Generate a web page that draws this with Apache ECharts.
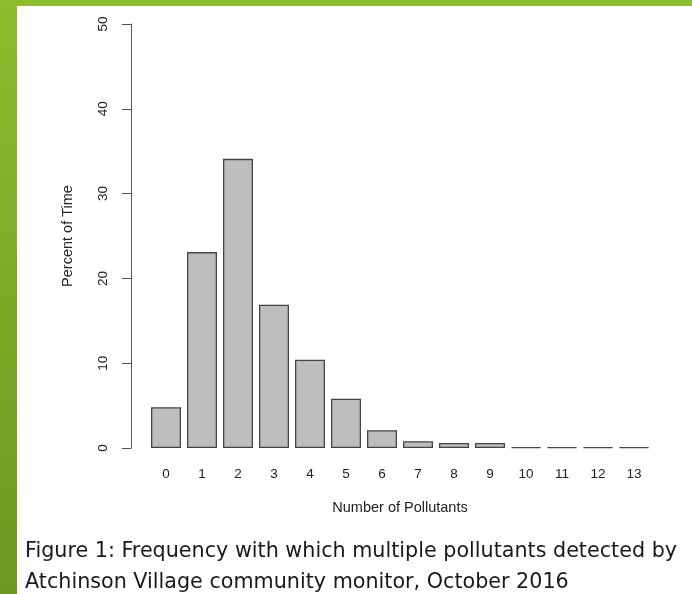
<!DOCTYPE html>
<html>
<head>
<meta charset="utf-8">
<script src="https://cdn.jsdelivr.net/npm/echarts@6/dist/echarts.min.js"></script>
<style>
  html, body { margin: 0; padding: 0; background: #fff; }
  #chart { width: 692px; height: 594px; }
</style>
</head>
<body>
<div id="chart"></div>
<script>
// number of pollutants detected at the same time
var categories = ['0', '1', '2', '3', '4', '5', '6', '7', '8', '9', '10', '11', '12', '13']
// percent of time
var percentOfTime = [4.8, 23.1, 34.1, 16.9, 10.4, 5.8, 2.1, 0.8, 0.6, 0.6, 0.1, 0.1, 0.1, 0.1]
var yTicks = [0, 10, 20, 30, 40, 50]

var captionLines = [
  'Figure 1: Frequency with which multiple pollutants detected by',
  'Atchinson Village community monitor, October 2016'
]

var chart = echarts.init(document.getElementById('chart'))

chart.setOption({
  backgroundColor: '#ffffff',
  animation: false,
  grid: {
    left: 148,
    top: 24,
    width: 504,
    height: 424
  },
  xAxis: {
    type: 'category',
    data: categories,
    name: 'Number of Pollutants',
    nameLocation: 'middle',
    nameGap: 52,
    nameTextStyle: {
      fontFamily: 'Liberation Sans',
      fontSize: 14.5,
      color: '#222'
    },
    axisLine: { show: false },
    axisTick: { show: false },
    axisLabel: {
      fontFamily: 'Liberation Sans',
      fontSize: 13.5,
      color: '#222',
      margin: 19,
      interval: 0
    }
  },
  yAxis: {
    type: 'value',
    min: yTicks[0],
    max: yTicks[yTicks.length - 1],
    interval: 10,
    offset: 17,
    name: 'Percent of Time',
    nameLocation: 'middle',
    nameGap: 56,
    nameTextStyle: {
      fontFamily: 'Liberation Sans',
      fontSize: 14.5,
      color: '#222'
    },
    splitLine: { show: false },
    axisLine: { show: true, lineStyle: { color: '#555', width: 1 } },
    axisTick: { show: true, length: 9, lineStyle: { color: '#555', width: 1 } },
    axisLabel: {
      rotate: 90,
      margin: 21,
      fontFamily: 'Liberation Sans',
      fontSize: 13.5,
      color: '#222'
    }
  },
  series: [
    {
      type: 'bar',
      data: percentOfTime,
      barWidth: 30,
      itemStyle: {
        color: '#bebebe',
        borderColor: '#444',
        borderWidth: 1.3
      }
    }
  ],
  graphic: [
    {
      type: 'rect',
      left: 0,
      top: 0,
      shape: { width: 692, height: 6 },
      style: { fill: '#8bbd2d' }
    },
    {
      type: 'rect',
      left: 0,
      top: 0,
      shape: { width: 17, height: 594 },
      style: {
        fill: new echarts.graphic.LinearGradient(0, 0, 0, 1, [
          { offset: 0, color: '#8bbd2d' },
          { offset: 1, color: '#6a9a1f' }
        ])
      }
    },
    {
      type: 'text',
      left: 25,
      top: 541,
      style: {
        text: captionLines[0],
        fontFamily: 'DejaVu Sans',
        fontSize: 20.7,
        fill: '#1a1a1a'
      }
    },
    {
      type: 'text',
      left: 25,
      top: 572,
      style: {
        text: captionLines[1],
        fontFamily: 'DejaVu Sans',
        fontSize: 20.7,
        fill: '#1a1a1a'
      }
    }
  ]
})
</script>
</body>
</html>
